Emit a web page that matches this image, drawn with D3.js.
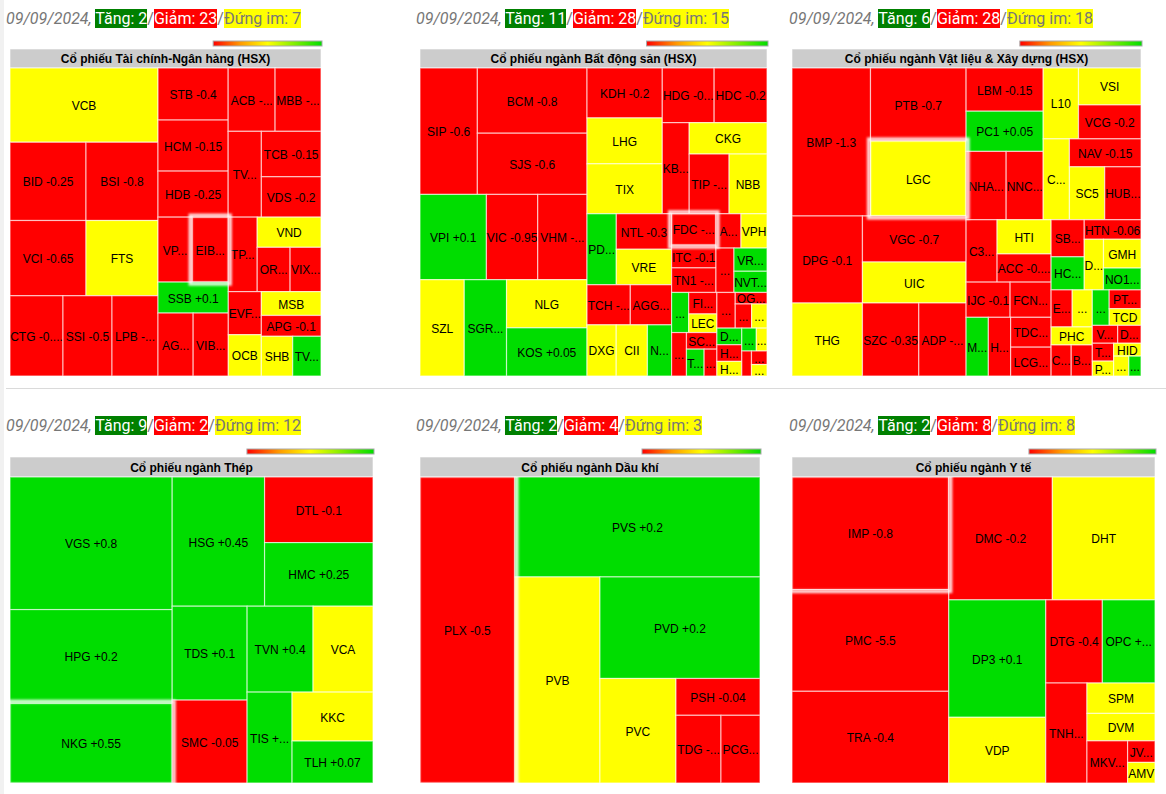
<!DOCTYPE html>
<html><head><meta charset="utf-8">
<script src="https://cdn.jsdelivr.net/npm/d3@7"></script>
<style>
body{margin:0;background:#fff;width:1166px;height:794px;overflow:hidden;position:relative;}
#chart{position:absolute;left:0;top:0;}
.hdr{position:absolute;font-family:Roboto,"Noto Sans",sans-serif;font-size:16px;line-height:normal;color:#777;white-space:nowrap;}
.hdr .d{font-style:italic;}
.hdr .up{background:#008000;color:#fff;}
.hdr .dn{background:#ff0000;color:#fff;}
.hdr .eq{background:#ffff00;color:#777;}
</style></head><body>
<svg id="chart" width="1166" height="794"></svg>
<script>
// ---------------- DATA ----------------
const dateLabel = "09/09/2024";
const panelTitles = ["Cổ phiếu Tài chính-Ngân hàng (HSX)", "Cổ phiếu ngành Bất động sản (HSX)", "Cổ phiếu ngành Vật liệu & Xây dựng (HSX)",
  "Cổ phiếu ngành Thép", "Cổ phiếu ngành Dầu khí", "Cổ phiếu ngành Y tế"];
const upCounts = [2, 11, 6, 9, 2, 2];
const downCounts = [23, 28, 28, 2, 4, 8];
const flatCounts = [7, 15, 18, 12, 3, 8];
const highlightTickers = ["EIB", "FDC", "LGC", "NKG", "PLX", "IMP"];

const finTickers = ["VCB","BID","BSI","VCI","FTS","CTG","SSI","LPB","STB","HCM","HDB","ACB","MBB","TVS","TCB","VDS","VPB","EIB","SSB","AGR","VIB","TPB","VND","ORS","VIX","EVF","OCB","MSB","APG","SHB","TVB"];
const finChanges = [0,-0.25,-0.8,-0.65,0,-0.35,-0.5,-0.45,-0.4,-0.15,-0.25,-0.2,-0.1,-0.3,-0.15,-0.2,-0.1,-0.3,0.1,-0.2,-0.1,-0.2,0,-0.3,-0.2,-0.1,0,0,-0.1,0,0.1];
const finWeights = [10952,5928,5616,5700,5400,4240,3920,3680,3640,3570,3220,2961,2898,2838,2700,2400,2210,2340,2170,2205,2205,2146,1920,1452,1364,1419,1360,1416,1239,1240,1120];

const bdsTickers = ["SIP","BCM","SJS","VPI","VIC","VHM","SZL","SGR","NLG","KOS","KDH","LHG","TIX","HDG","HDC","KBC","CKG","TIP","NBB","PDR","NTL","VRE","TCH","AGG","DXG","CII","NVL","FDC","ITC","TN1","ASM","VPH","DTA","VRC","NVT","D2D","FIR","LEC","QCG","SCR","TDH","CCL","DXS","OGC","KHG","CIG","DRH","HQC","HAR","LGL","CRE","HPX","TEG","VCR"];
const bdsChanges = [-0.6,-0.8,-0.6,0.1,-0.95,-0.4,0,0.3,0,0.05,-0.2,0,0,-0.35,-0.2,-0.3,0,-0.2,0,0.3,-0.3,0,-0.3,-0.2,0,0,0.1,-0.5,-0.1,-0.2,-0.3,0,-0.2,0.2,0.1,0.2,-0.2,0,-0.1,-0.1,0.2,-0.1,-0.3,-0.1,-0.2,0,0.1,-0.1,0,0.1,0,-0.1,-0.1,0];
const bdsWeights = [7182,7085,6649,5610,4335,4165,4224,4032,3840,3840,3724,3420,3724,2808,2862,2430,2418,2360,2242,2059,1944,1944,1720,1640,1479,1581,1224,1380,1000,1080,850,884,792,759,693,680,600,520,640,500,470,340,648,363,391,368,410,410,360,330,242,240,208,176];

const vlxdTickers = ["BMP","PTB","LGC","DPG","THG","VGC","UIC","SZC","ADP","LBM","PC1","NHA","NNC","L10","VSI","VCG","CMV","NAV","SC5","HUB","C32","HTI","ACC","IJC","FCN","MCP","HAS","TDC","LCG","SBV","HCD","HTN","DXV","GMH","NO1","EVG","MDG","PHC","CDC","BCE","VNE","PTC","TCD","VNL","DC4","TNI","PTL","HID","SVT","TYA"];
const vlxdChanges = [-1.3,-0.7,0,-0.1,0,-0.7,0,-0.35,-0.2,-0.15,0.05,-0.2,-0.3,0,0,-0.2,0,-0.15,0,-0.1,-0.2,0,-0.25,-0.1,-0.3,0.1,-0.1,-0.2,-0.3,-0.1,0.2,-0.06,0,0,0.1,-0.1,0,0,-0.1,-0.2,0.1,-0.1,0,-0.1,-0.1,-0.1,0,0,0,0.1];
const vlxdWeights = [11544,6935,7125,6090,5110,4738,4223,4088,3431,3311,3080,2720,2516,2485,2294,2108,2106,1988,1855,1908,1922,1836,1512,1540,1435,1298,1298,1200,1160,1221,1089,1102,969,1073,814,777,740,738,620,651,595,594,527,450,414,378,315,351,300,240];

const thepTickers = ["VGS","HPG","NKG","HSG","DTL","HMC","TDS","SMC","TVN","VCA","TIS","KKC","TLH"];
const thepChanges = [0.8,0.2,0.55,0.45,-0.1,0.25,0.1,-0.05,0.4,0,0.15,0,0.07];
const thepWeights = [21546,15228,12960,11960,7128,6912,7050,6225,5676,5160,4095,3969,3402];

const dkTickers = ["PLX","PVS","PVB","PVD","PVC","PSH","TDG","PCG"];
const dkChanges = [-0.5,0.2,0,0.2,0,-0.04,-0.1,-0.1];
const dkWeights = [29165,24600,17595,16320,7980,3108,3060,2652];

const ytTickers = ["IMP","PMC","TRA","DMC","DHT","DP3","VDP","DTG","OPC","TNH","SPM","DVM","MKV","JVC","AMV"];
const ytChanges = [-0.8,-5.5,-0.4,-0.2,0,0.1,0,-0.4,0.3,-0.2,0,0,-0.2,-0.1,0];
const ytWeights = [17741,16014,14444,12792,12669,11446,6402,4731,4399,4141,2077,1876,1720,594,567];

const panelData = [
  [finTickers, finChanges, finWeights],
  [bdsTickers, bdsChanges, bdsWeights],
  [vlxdTickers, vlxdChanges, vlxdWeights],
  [thepTickers, thepChanges, thepWeights],
  [dkTickers, dkChanges, dkWeights],
  [ytTickers, ytChanges, ytWeights]
];

// ---------------- LAYOUT ----------------
const boxes = [
  {x0:10, x1:321, top:49, y0:68, y1:376, hx:6, hy:9},
  {x0:420, x1:767, top:49, y0:68, y1:376, hx:416, hy:9},
  {x0:792, x1:1141, top:49, y0:68, y1:376, hx:789, hy:9},
  {x0:10, x1:373, top:457, y0:477, y1:783, hx:6, hy:416},
  {x0:420, x1:760, top:457, y0:477, y1:783, hx:416, hy:416},
  {x0:792, x1:1155, top:457, y0:477, y1:783, hx:789, hy:416}
];
const LABEL_FONT = "Arial, 'Liberation Sans', sans-serif";
const colorUp = "#00dd00", colorDown = "#ff0000", colorFlat = "#ffff00";

// binary partition: largest prefix not exceeding half, split along longer side
function tileBinaryFloor(parent, x0, y0, x1, y1) {
  const nodes = parent.children, n = nodes.length;
  const sums = [0];
  for (let i = 0; i < n; i++) sums.push(sums[i] + nodes[i].value);
  (function part(i, j, value, x0, y0, x1, y1) {
    if (j - i === 1) { const nd = nodes[i]; nd.x0 = x0; nd.y0 = y0; nd.x1 = x1; nd.y1 = y1; return; }
    const target = sums[i] + value / 2;
    let k = i + 1;
    while (k < j - 1 && sums[k + 1] <= target) k++;
    const vl = sums[k] - sums[i], vr = value - vl;
    if (x1 - x0 > y1 - y0) {
      const xk = value ? x0 + (x1 - x0) * vl / value : x1;
      part(i, k, vl, x0, y0, xk, y1); part(k, j, vr, xk, y0, x1, y1);
    } else {
      const yk = value ? y0 + (y1 - y0) * vl / value : y1;
      part(i, k, vl, x0, y0, x1, yk); part(k, j, vr, x0, yk, x1, y1);
    }
  })(0, n, parent.value, x0, y0, x1, y1);
}

const svg = d3.select("#chart");
svg.append("rect").attr("x", 0).attr("y", 0).attr("width", 4).attr("height", 794).attr("fill", "#f1f1f1");
svg.append("line").attr("x1", 6).attr("x2", 1166).attr("y1", 388.5).attr("y2", 388.5).attr("stroke", "#dadada").attr("stroke-width", 1);

const defs = svg.append("defs");
const grad = defs.append("linearGradient").attr("id", "scaleGrad");
[["0%", "#ff0000"], ["25%", "#ff9900"], ["50%", "#ffff00"], ["100%", "#00dd00"]].forEach(s =>
  grad.append("stop").attr("offset", s[0]).attr("stop-color", s[1]));
const glow = defs.append("filter").attr("id", "glow").attr("x", "-10%").attr("y", "-10%").attr("width", "120%").attr("height", "120%");
glow.append("feGaussianBlur").attr("stdDeviation", 0.9);

const meas = svg.append("text").attr("font-family", LABEL_FONT).attr("font-size", 12).attr("visibility", "hidden");
function textW(s) { meas.text(s); return meas.node().getComputedTextLength(); }
function fitLabel(label, w) {
  if (textW(label) <= w) return label;
  for (let n = label.length - 1; n >= 0; n--) {
    const s = label.slice(0, n).replace(/\s+$/, "") + "...";
    if (textW(s) <= w) return s;
  }
  return "";
}
const fmtChange = v => (v > 0 ? "+" : "") + v;

panelData.forEach((pd, idx) => {
  const [tickers, changes, weights] = pd;
  const b = boxes[idx];
  const w = b.x1 - b.x0, h = b.y1 - b.y0;
  const rows = tickers.map((t, i) => ({ticker: t, change: changes[i], weight: weights[i]}));
  const root = d3.hierarchy({children: rows}).sum(d => d.weight || 0);
  d3.treemap().size([w, h]).tile(tileBinaryFloor)(root);

  // colour scale legend
  const lw = w * 0.35;
  svg.append("rect").attr("x", b.x1 + 1 - lw).attr("y", b.top - 8).attr("width", lw).attr("height", 5)
    .attr("fill", "url(#scaleGrad)").attr("stroke", "#a9a9a9").attr("stroke-width", 1);

  // title bar
  svg.append("rect").attr("x", b.x0).attr("y", b.top).attr("width", w).attr("height", b.y0 - b.top)
    .attr("fill", "#cccccc").attr("stroke", "#ffffff").attr("stroke-opacity", 0.6);
  svg.append("text").attr("x", b.x0 + w / 2).attr("y", b.top + (b.y0 - b.top) / 2 + 4.5)
    .attr("text-anchor", "middle").attr("font-family", LABEL_FONT).attr("font-size", 12).attr("font-weight", "bold")
    .attr("fill", "#000").text(panelTitles[idx]);

  const clipId = "clip" + idx;
  defs.append("clipPath").attr("id", clipId).append("rect").attr("x", 0).attr("y", 0).attr("width", w).attr("height", h);

  const g = svg.append("g").attr("transform", `translate(${b.x0},${b.y0})`);
  const leaves = root.leaves();
  const cell = g.selectAll("g.cell").data(leaves).join("g").attr("class", "cell");
  cell.append("rect")
    .attr("x", d => d.x0).attr("y", d => d.y0)
    .attr("width", d => d.x1 - d.x0).attr("height", d => d.y1 - d.y0)
    .attr("fill", d => d.data.change > 0 ? colorUp : d.data.change < 0 ? colorDown : colorFlat)
    .attr("stroke", "#ffffff").attr("stroke-opacity", 0.6).attr("stroke-width", 1.2);
  cell.append("text")
    .attr("x", d => (d.x0 + d.x1) / 2).attr("y", d => (d.y0 + d.y1) / 2 + 5)
    .attr("text-anchor", "middle").attr("font-family", LABEL_FONT).attr("font-size", 12).attr("fill", "#000")
    .text(d => {
      const full = d.data.change === 0 ? d.data.ticker : d.data.ticker + " " + fmtChange(d.data.change);
      return fitLabel(full, d.x1 - d.x0 - 0.3);
    });

  // highlighted cell: white glow drawn just outside the cell, clipped to the plot
  const hg = g.append("g").attr("clip-path", `url(#${clipId})`);
  leaves.filter(d => highlightTickers.includes(d.data.ticker)).forEach(d => {
    hg.append("rect").attr("x", d.x0 - 1.8).attr("y", d.y0 - 1.8)
      .attr("width", d.x1 - d.x0 + 3.6).attr("height", d.y1 - d.y0 + 3.6)
      .attr("fill", "none").attr("stroke", "#ffffff").attr("stroke-width", 3.6).attr("stroke-opacity", 0.85)
      .attr("filter", "url(#glow)");
  });

  // header line with counts
  const hdr = d3.select("body").append("div").attr("class", "hdr")
    .style("left", b.hx + "px").style("top", b.hy + "px");
  hdr.append("span").attr("class", "d").text(dateLabel + ",");
  hdr.append("span").text(" ");
  hdr.append("span").attr("class", "up").text("Tăng: " + upCounts[idx]);
  hdr.append("span").text("/");
  hdr.append("span").attr("class", "dn").text("Giảm: " + downCounts[idx]);
  hdr.append("span").text("/");
  hdr.append("span").attr("class", "eq").text("Đứng im: " + flatCounts[idx]);
});
</script>
</body></html>
